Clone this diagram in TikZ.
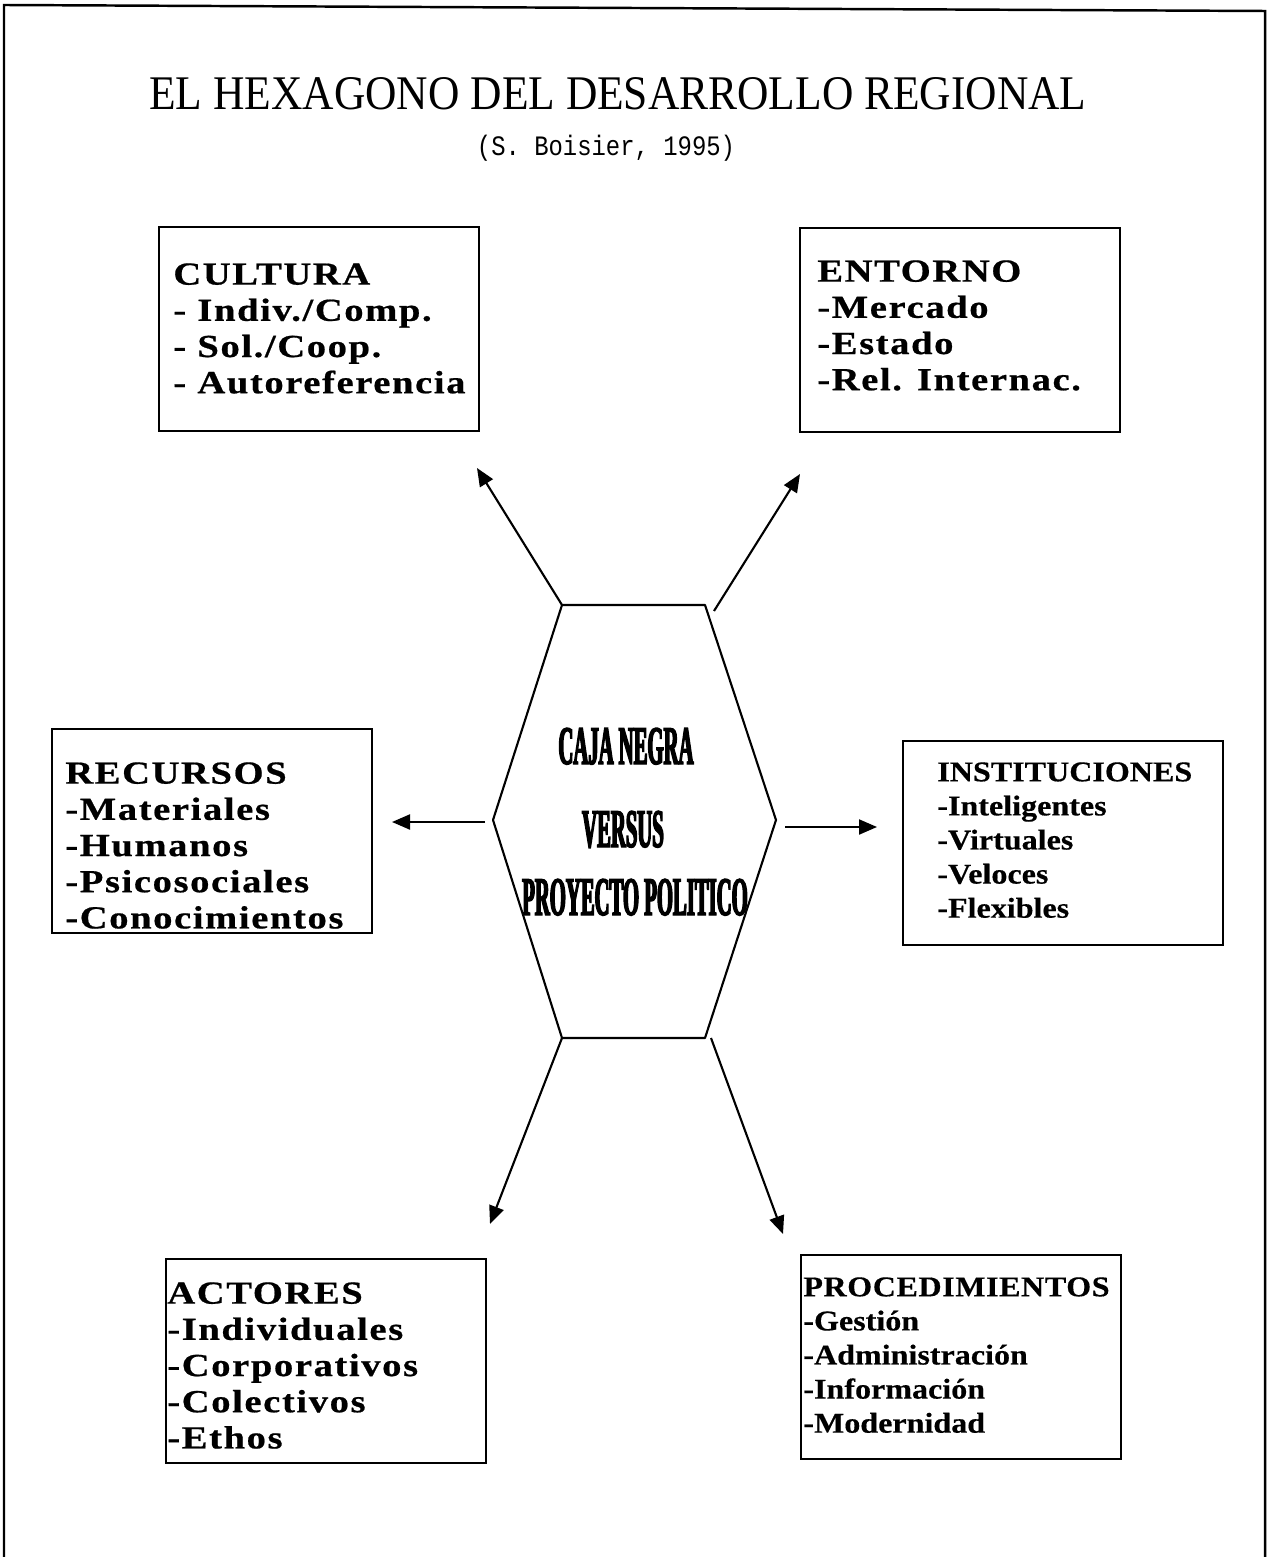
\documentclass[tikz,border=0pt]{standalone}
\usepackage{fontspec}
\setmainfont{Liberation Serif}
\newfontfamily\fuenteTitulo[FakeStretch=0.9]{Liberation Serif}
\newfontfamily\fuenteCita[FakeStretch=0.85]{Liberation Mono}
\newfontfamily\fuenteAncha[FakeStretch=1.2,LetterSpace=5,FakeBold=0.6]{Liberation Serif}
\newfontfamily\fuenteCaja[FakeStretch=1.12,FakeBold=0.4]{Liberation Serif}
\newfontfamily\fuenteHex[FakeStretch=0.38,FakeBold=2.5]{Liberation Serif}
\usetikzlibrary{arrows.meta}
\usetikzlibrary{positioning}
\tikzset{
    caja/.style = {draw,line width=1.2pt,minimum width=6.4cm,minimum height=4.08cm,anchor=north west,inner sep=0},
    ancho/.style = {align=left,inner sep=0,font={\fuenteAncha\bfseries\fontsize{18.3}{20.6}\selectfont}},
    estrecho/.style = {align=left,inner sep=0,font={\fuenteCaja\bfseries\fontsize{16.3}{19.4}\selectfont}},
    hexlabel/.style = {anchor=base,inner sep=0,font={\fuenteHex\bfseries\fontsize{31}{33}\selectfont}}
}
\tikzset{
    hexa/.style = {line width=1.2pt,line join=round},
    spoke/.style = {line width=1.2pt,-{Triangle[length=3.6mm,width=3mm]}},
    marco/.style = {line width=1.4pt}
}

\begin{document}
\begin{tikzpicture}[x=0.02cm,y=-0.02cm]
        \useasboundingbox (0,0) rectangle (1270,1557);
        % Frame
        \draw[marco] (4,1557) -- (4,5) -- (1265,11) -- (1265,1557);
        % Title
        \node[anchor=base,inner sep=0,font={\fuenteTitulo\fontsize{27.5}{29}\selectfont}] (titulo) at (618,110)
            {EL HEXAGONO DEL DESARROLLO REGIONAL};
        \node[anchor=base,inner sep=0,font={\fuenteCita\fontsize{16}{18}\selectfont}] (cita) at (606,156)
            {(S. Boisier, 1995)};
        % Hexagon
        \path (562,605) coordinate (h1)
            (705,605) coordinate (h2)
            (776,820) coordinate (h3)
            (705,1038) coordinate (h4)
            (562,1038) coordinate (h5)
            (493,820) coordinate (h6);
        \draw[hexa] (h1) -- (h2) -- (h3) -- (h4) -- (h5) -- (h6) -- cycle;
        \node[hexlabel] (caja) at (626,764) {CAJA NEGRA};
        \node[hexlabel] (versus) at (623,847) {VERSUS};
        \node[hexlabel] (proyecto) at (635,915) {PROYECTO POLITICO};
        % Boxes
        \node[caja] (cultura) at (158,226) {};
        \node[caja] (entorno) at (799,227) {};
        \node[caja] (recursos) at (51,728) {};
        \node[caja] (instituciones) at (902,740) {};
        \node[caja] (actores) at (165,1258) {};
        \node[caja] (procedimientos) at (800,1254) {};
        % Box texts
        \node[ancho,below right=0.74cm and 0.3cm of cultura.north west] (cultura-txt)
            {CULTURA\\- Indiv./Comp.\\- Sol./Coop.\\- Autoreferencia};
        \node[ancho,below right=0.66cm and 0.36cm of entorno.north west] (entorno-txt)
            {ENTORNO\\-Mercado\\-Estado\\-Rel. Internac.};
        \node[ancho,below right=0.68cm and 0.28cm of recursos.north west] (recursos-txt)
            {RECURSOS\\-Materiales\\-Humanos\\-Psicosociales\\-Conocimientos};
        \node[estrecho,below right=0.44cm and 0.7cm of instituciones.north west] (instituciones-txt)
            {INSTITUCIONES\\-Inteligentes\\-Virtuales\\-Veloces\\-Flexibles};
        \node[ancho,below right=0.48cm and 0.04cm of actores.north west] (actores-txt)
            {ACTORES\\-Individuales\\-Corporativos\\-Colectivos\\-Ethos};
        \node[estrecho,below right=0.46cm and 0.06cm of procedimientos.north west] (procedimientos-txt)
            {{\addfontfeature{LetterSpace=2}PROCEDIMIENTOS}\\-Gestión\\-Administración\\-Información\\-Modernidad};
        % Arrow ends
        \path (477,468) coordinate (t-ul)
            (714,611) coordinate (s-ur)
            (800,474) coordinate (t-ur)
            (485,822) coordinate (s-l)
            (392,822) coordinate (t-l)
            (785,827) coordinate (s-r)
            (877,827) coordinate (t-r)
            (490,1224) coordinate (t-ll)
            (711,1038) coordinate (s-lr)
            (783,1234) coordinate (t-lr);
        % Arrows
        \foreach \src/\dest in {h1/t-ul,s-ur/t-ur,s-l/t-l,s-r/t-r,h5/t-ll,s-lr/t-lr}
            \draw[spoke] (\src) -- (\dest);
\end{tikzpicture}
\end{document}
